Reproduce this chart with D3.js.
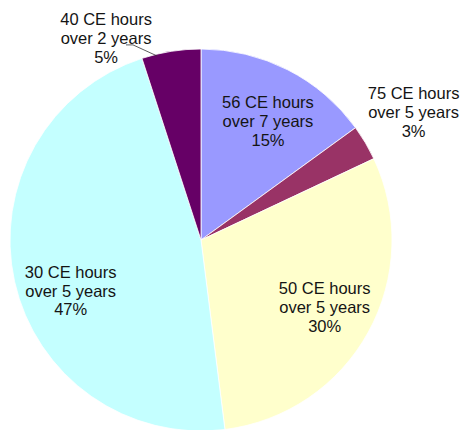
<!DOCTYPE html>
<html><head><meta charset="utf-8">
<script src="https://cdn.jsdelivr.net/npm/d3@7"></script>
<style>body{margin:0;background:#fff}svg{display:block}</style>
</head><body>
<script>
const categories = ["56 CE hours over 7 years","75 CE hours over 5 years","50 CE hours over 5 years","30 CE hours over 5 years","40 CE hours over 2 years"];
const labelLines = [["56 CE hours","over 7 years"],["75 CE hours","over 5 years"],["50 CE hours","over 5 years"],["30 CE hours","over 5 years"],["40 CE hours","over 2 years"]];
const values = [15,3,30,47,5];
const colors = ["#9999FF","#993366","#FFFFCC","#C4FFFF","#660066"];

const W=463,H=430,cx=201,cy=240,R=191;
// label placement: radius and angle (deg) per slice
const labelPos = [{r:136,a:29.5},{r:248,a:59},{r:141,a:118.7},{r:140,a:248.6},{r:223,a:334.8}];

const svg=d3.select("body").append("svg").attr("width",W).attr("height",H);
const g=svg.append("g").attr("transform",`translate(${cx},${cy})`);
const pie=d3.pie().sort(null).value(d=>d)(values);
const arc=d3.arc().innerRadius(0).outerRadius(R);
g.selectAll("path").data(pie).join("path")
  .attr("d",arc).attr("fill",(d,i)=>colors[i])
  .attr("stroke","#fff").attr("stroke-width",0.8);

const lh=18.8;
pie.forEach((d,i)=>{
  const p=labelPos[i], a=p.a*Math.PI/180;
  const x=p.r*Math.sin(a), y=-p.r*Math.cos(a);
  const lines=[...labelLines[i], values[i]+"%"];
  const t=g.append("text").attr("text-anchor","middle")
    .attr("font-family","'Liberation Sans', Arial, sans-serif").attr("font-size",16.5)
    .attr("fill","#141414");
  lines.forEach((s,k)=>{
    t.append("tspan").attr("x",x).attr("y",y+(k-1)*lh+5.5).text(s);
  });
});
// leader line for small slice "40 CE"
{
  const d=pie[4], mid=(d.startAngle+d.endAngle)/2 - 0.07;
  const ex=R*Math.sin(mid), ey=-R*Math.cos(mid);
  g.append("path").attr("d",`M${ex-32},${ey-9}L${ex-25},${ey-9}L${ex-1},${ey+2}`)
   .attr("fill","none").attr("stroke","#333").attr("stroke-width",0.8);
}
</script>
</body></html>
